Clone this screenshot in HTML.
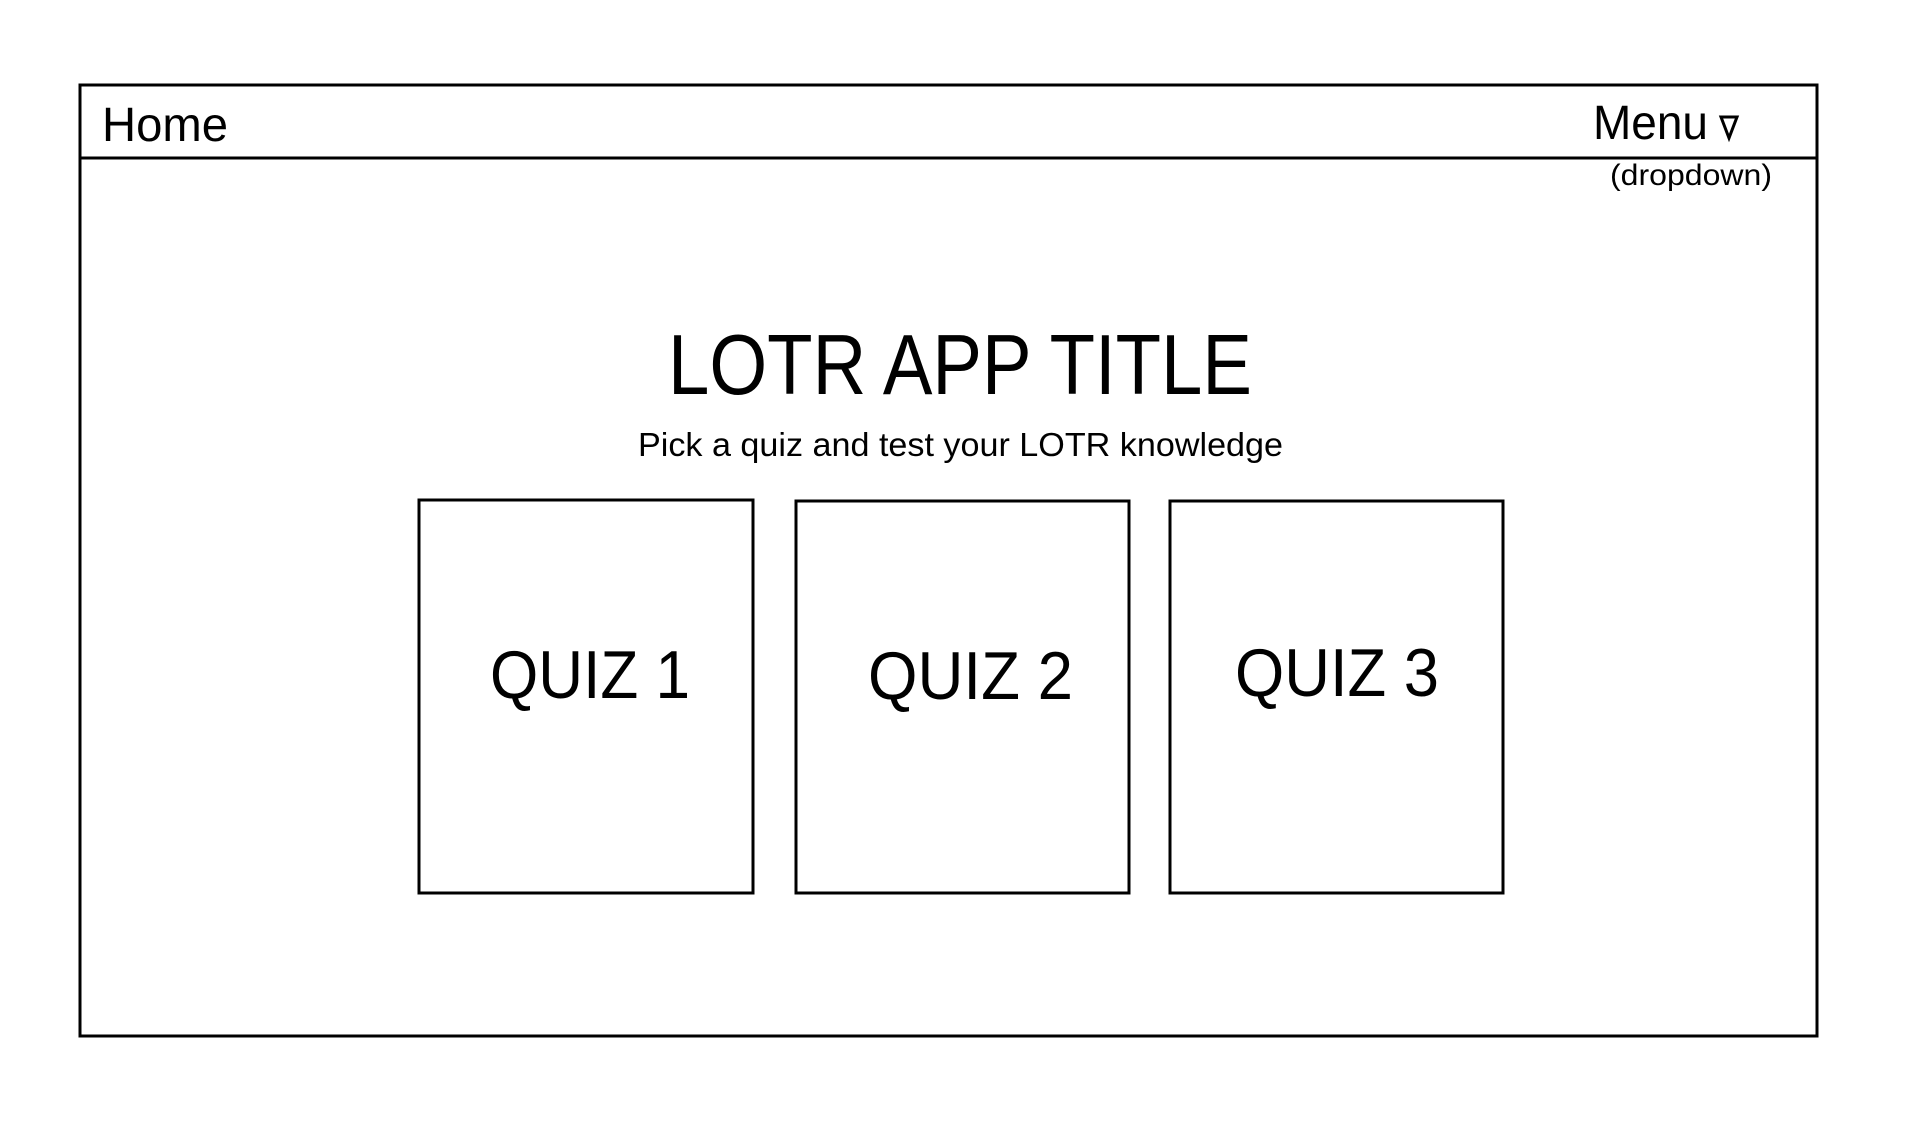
<!DOCTYPE html>
<html><head><meta charset="utf-8"><style>html,body{margin:0;padding:0;background:#fff}svg{display:block}</style></head>
<body>
<svg width="1920" height="1136" viewBox="0 0 1920 1136" xmlns="http://www.w3.org/2000/svg" font-family="Liberation Sans, sans-serif" fill="#000">
<rect x="80" y="85" width="1737" height="951" fill="none" stroke="#000" stroke-width="3"/>
<line x1="80" y1="158" x2="1817" y2="158" stroke="#000" stroke-width="3"/>
<text x="102" y="141" font-size="48" textLength="126" lengthAdjust="spacingAndGlyphs">Home</text>
<text x="1593" y="139" font-size="48" textLength="115" lengthAdjust="spacingAndGlyphs">Menu</text>
<polygon points="1721,117 1737,117 1729,138" fill="none" stroke="#000" stroke-width="3"/>
<text x="1610" y="185" font-size="30" textLength="162" lengthAdjust="spacingAndGlyphs">(dropdown)</text>
<text x="668" y="394" font-size="85" textLength="584" lengthAdjust="spacingAndGlyphs">LOTR APP TITLE</text>
<text x="638" y="456" font-size="33" textLength="645" lengthAdjust="spacingAndGlyphs">Pick a quiz and test your LOTR knowledge</text>
<rect x="419" y="500" width="334" height="393" fill="none" stroke="#000" stroke-width="3"/>
<rect x="796" y="501" width="333" height="392" fill="none" stroke="#000" stroke-width="3"/>
<rect x="1170" y="501" width="333" height="392" fill="none" stroke="#000" stroke-width="3"/>
<text x="490" y="698" font-size="68" textLength="200" lengthAdjust="spacingAndGlyphs">QUIZ 1</text>
<text x="868" y="699" font-size="68" textLength="205" lengthAdjust="spacingAndGlyphs">QUIZ 2</text>
<text x="1235" y="696" font-size="68" textLength="204" lengthAdjust="spacingAndGlyphs">QUIZ 3</text>
</svg>
</body></html>
